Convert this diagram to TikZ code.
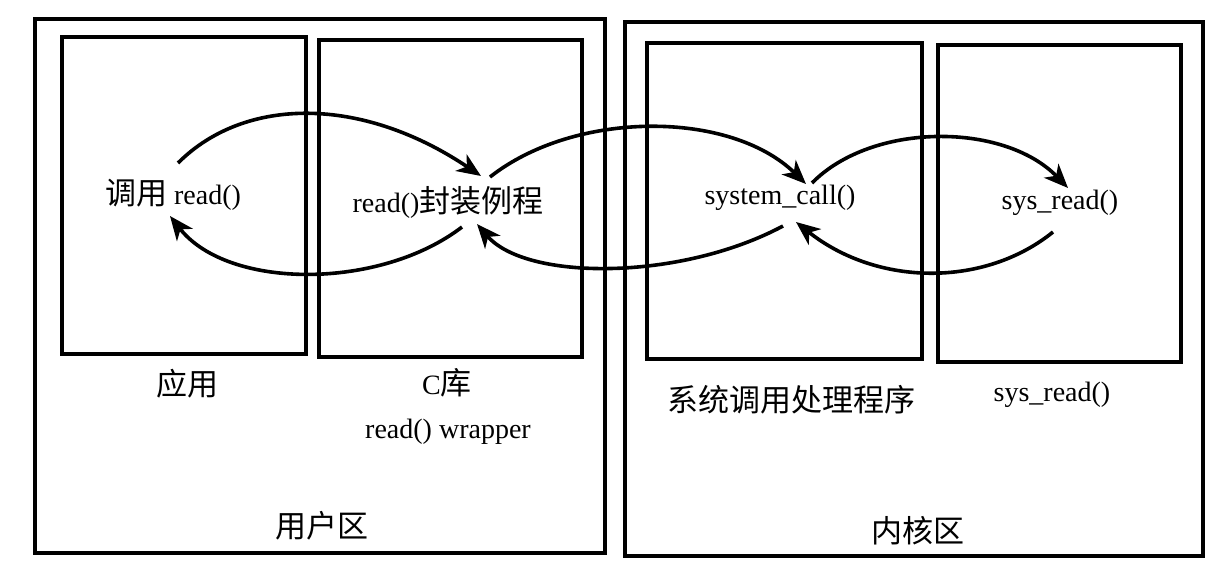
\documentclass[tikz,border=0pt]{standalone}
\usepackage{fontspec}
\setmainfont{Liberation Serif}
\newfontfamily\cjk{Noto Sans CJK SC}
\usetikzlibrary{arrows.meta}
\newcommand\zhtext[1]{{\cjk\fontsize{15.5pt}{18pt}\selectfont #1}}
\begin{document}
\begin{tikzpicture}[x=0.5pt,y=-0.5pt,
  box/.style={draw, line width=1.9pt},
  lat/.style={font=\fontsize{14pt}{16pt}\selectfont, inner sep=0pt},
  flow/.style={line width=1.8pt, -{Stealth[length=12pt,width=10pt,inset=3.5pt]}}]
\useasboundingbox (0,0) rectangle (1216,580);
% regions
\draw[box] (35,19) rectangle (605,553);
\draw[box] (625,22) rectangle (1203,556);
% inner boxes
\draw[box] (62,37) rectangle (306,354);
\draw[box] (319,40) rectangle (582,357);
\draw[box] (647,43) rectangle (922,359);
\draw[box] (938,45) rectangle (1181,362);
% texts inside
\node[lat] (app) at (173,195) {\zhtext{调用} read()};
\node[lat] (wrap) at (448,202) {read()\zhtext{封装例程}};
\node[lat] (sc) at (780,198) {system\_call()};
\node[lat] (sr) at (1060,203) {sys\_read()};
% labels
\node[lat] (lapp) at (187,384) {\zhtext{应用}};
\node[lat] (llib) at (447,383) {C\zhtext{库}};
\node[lat] (lwrap) at (448,432) {read() wrapper};
\node[lat] (lsch) at (791,400) {\zhtext{系统调用处理程序}};
\node[lat] (lsr) at (1052,395) {sys\_read()};
\node[lat] (luser) at (322,526) {\zhtext{用户区}};
\node[lat] (lkern) at (918,531) {\zhtext{内核区}};
% connector end points
\coordinate (a1s) at (178,163);
\coordinate (a1e) at (481,176);
\coordinate (a2s) at (490,177);
\coordinate (a2e) at (806,184);
\coordinate (a3s) at (812,183);
\coordinate (a3e) at (1068,188);
\coordinate (b1s) at (1053,232);
\coordinate (b1e) at (796,222);
\coordinate (b2s) at (783,226);
\coordinate (b2e) at (477,224);
\coordinate (b3s) at (462,227);
\coordinate (b3e) at (170,216);
% calls
\draw[flow] (a1s) .. controls (245,96) and (362,96) .. (a1e);
\draw[flow] (a2s) .. controls (575,110) and (730,110) .. (a2e);
\draw[flow] (a3s) .. controls (872,122) and (1004,122) .. (a3e);
% returns
\draw[flow] (b1s) .. controls (985,287) and (878,287) .. (b1e);
\draw[flow] (b2s) .. controls (680,281) and (526,281) .. (b2e);
\draw[flow] (b3s) .. controls (380,290) and (228,290) .. (b3e);
\end{tikzpicture}
\end{document}
